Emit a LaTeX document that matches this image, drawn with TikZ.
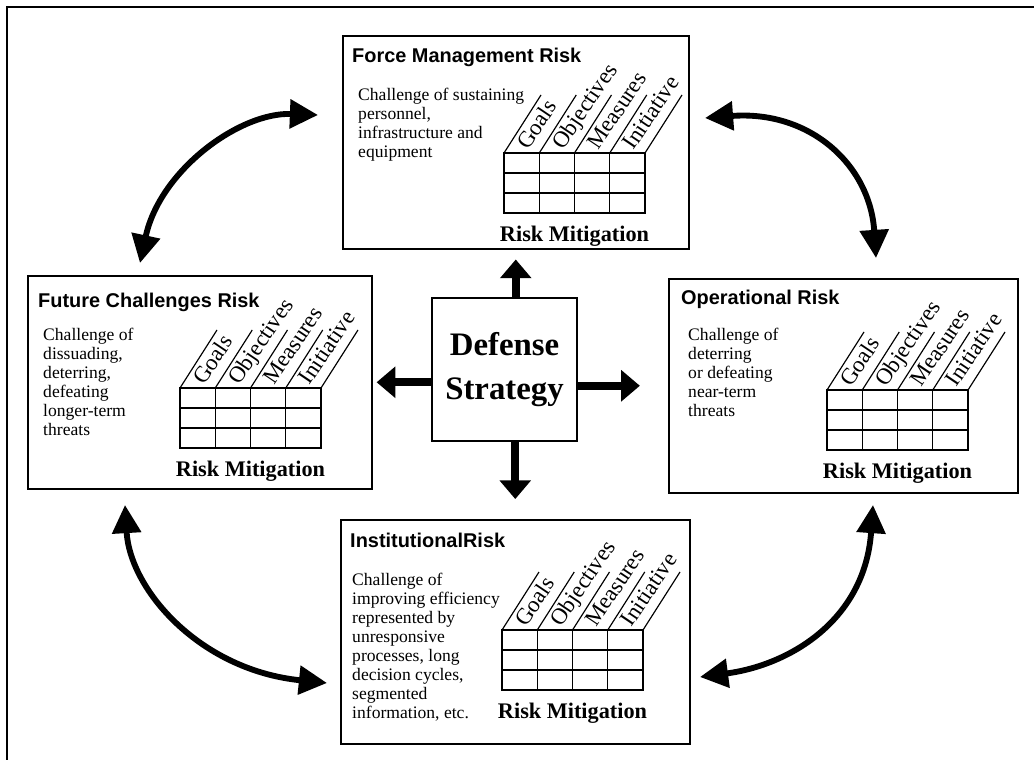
\documentclass[tikz,border=0pt]{standalone}
\usepackage{fontspec}
\setmainfont{Liberation Serif}
\setsansfont{Liberation Sans}
\usetikzlibrary{arrows.meta}

\tikzset{
  riskbox/.style={draw, line width=1.3pt, inner sep=0pt, anchor=north west},
  centrebox/.style={draw, line width=1.3pt, inner sep=0pt, align=center,
    font=\bfseries\fontsize{28}{37}\selectfont},
  boxtitle/.style={anchor=base west, inner sep=0pt,
    font=\sffamily\bfseries\fontsize{17}{19}\selectfont},
  boxtext/.style={anchor=north west, inner sep=0pt, align=left,
    font=\fontsize{15}{16.2}\selectfont},
  mitig/.style={anchor=base, inner sep=0pt, font=\bfseries\fontsize{19}{21}\selectfont},
  collabel/.style={rotate=56, anchor=base west, inner sep=0pt,
    font=\fontsize{19.5}{21}\selectfont},
  gridline/.style={line width=1pt},
  ctrarrow/.style={line width=7pt, -{Triangle[length=16pt,width=26pt]}},
  cyclearrow/.style={line width=5pt,
    {Triangle[length=24pt,width=24pt]}-{Triangle[length=24pt,width=24pt]}},
}

% grid with slanted headers: top left corner (#1,#2), name prefix #3
\newcommand{\riskgrid}[3]{%
  \begin{scope}[shift={(#1,#2)}]
    \draw[gridline] (0,0) rectangle (141,60);
    \foreach \r in {20,40}
      \draw[gridline] (0,\r) -- (141,\r);
    \foreach \c in {35.25,70.5,105.75}
      \draw[gridline] (\c,0) -- (\c,60);
    % slanted header
    \foreach \c in {0,35.25,70.5,105.75,141}
      \draw[gridline] (\c,0) -- ++(37,-58);
    \foreach \c/\lab in {0/Goals,35.25/Objectives,70.5/Measures,105.75/Initiative}
      \node[collabel] (#3-\lab) at (\c+24,-2) {\lab};
    \node[mitig] (#3-rm) at (70.5,88) {Risk Mitigation};
  \end{scope}}

\begin{document}
\begin{tikzpicture}[x=0.03cm, y=-0.03cm]
  \useasboundingbox (0,0) rectangle (1034,760);

  % frame
  \draw[line width=1.5pt] (7,760) -- (7,7) -- (1034,7);

  % Force Management Risk
  \node[riskbox, minimum width=346*0.03cm, minimum height=213*0.03cm] (fm) at (342,35) {};
  \node[boxtitle] (fm-title) at (352,63) {Force Management Risk};
  \node[boxtext] (fm-text) at (358,88)
    {Challenge of sustaining\\personnel,\\infrastructure and\\equipment};
  \riskgrid{504}{153}{fm}

  % Future Challenges Risk
  \node[riskbox, minimum width=344*0.03cm, minimum height=213*0.03cm] (fc) at (27,275) {};
  \node[boxtitle] (fc-title) at (38,307) {Future Challenges Risk};
  \node[boxtext] (fc-text) at (43,328)
    {Challenge of\\dissuading,\\deterring,\\defeating\\longer-term\\threats};
  \riskgrid{180}{388}{fc}

  % Operational Risk
  \node[riskbox, minimum width=349*0.03cm, minimum height=214*0.03cm] (op) at (668,278) {};
  \node[boxtitle] (op-title) at (681,304) {Operational Risk};
  \node[boxtext] (op-text) at (688,328)
    {Challenge of\\deterring\\or defeating\\near-term\\threats};
  \riskgrid{827}{390}{op}

  % Institutional Risk
  \node[riskbox, minimum width=349*0.03cm, minimum height=224*0.03cm] (in) at (340,519) {};
  \node[boxtitle] (in-title) at (350,547) {InstitutionalRisk};
  \node[boxtext] (in-text) at (352,573)
    {Challenge of\\improving efficiency\\represented by\\unresponsive\\processes, long\\decision cycles,\\segmented\\information, etc.};
  \riskgrid{502}{630}{in}

  % Defense Strategy
  \node[centrebox, minimum width=145*0.03cm, minimum height=143*0.03cm] (ds) at (504.5,369.5)
    {Defense\\Strategy};

  % arrows out of the centre
  \draw[ctrarrow, shorten >=8.5pt] (ds.north -| fm.south) -- (fm.south);
  \draw[ctrarrow, shorten >=17pt] (ds.south -| in.north) -- (in.north);
  \draw[ctrarrow, shorten >=3.5pt] (ds.west |- fc.east) -- (fc.east);
  \draw[ctrarrow, shorten >=24pt] (ds.east |- op.west) -- (op.west);

  % arrows round the cycle
  \coordinate (tl-a) at (140,263);
  \coordinate (tl-b) at (318,115);
  \coordinate (tr-a) at (705,118);
  \coordinate (tr-b) at (876,258);
  \coordinate (bl-a) at (125,505);
  \coordinate (bl-b) at (327,683);
  \coordinate (br-a) at (700,677);
  \coordinate (br-b) at (873,505);
  \draw[cyclearrow] (tl-a) .. controls (160,170) and (240,112) .. (tl-b);
  \draw[cyclearrow] (tr-a) .. controls (810,110) and (870,165) .. (tr-b);
  \draw[cyclearrow] (bl-a) .. controls (130,590) and (200,670) .. (bl-b);
  \draw[cyclearrow] (br-a) .. controls (790,665) and (865,620) .. (br-b);
\end{tikzpicture}
\end{document}
